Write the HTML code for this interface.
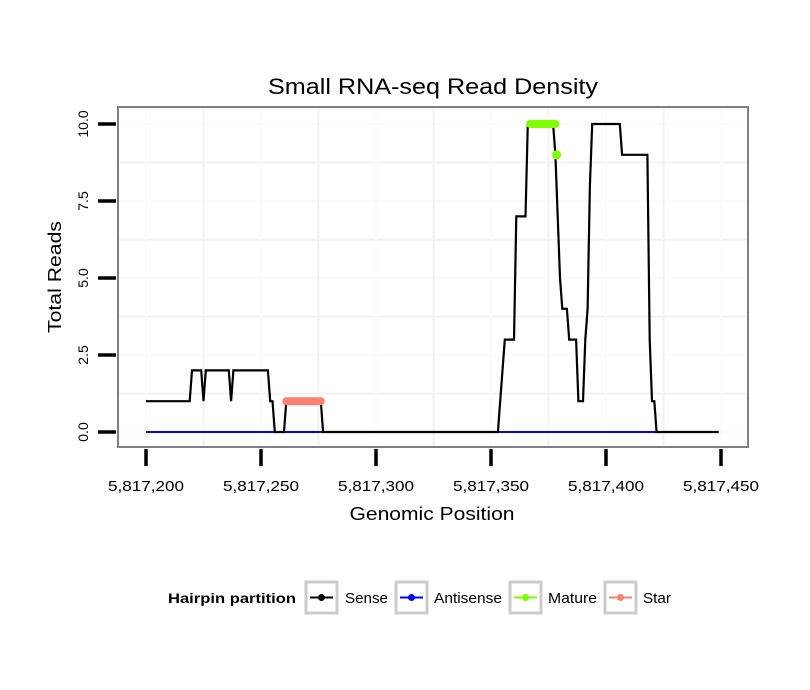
<!DOCTYPE html>
<html><head><meta charset="utf-8"><style>
body{margin:0;background:#fff;}
svg{display:block;font-family:"Liberation Sans",sans-serif;}
</style></head><body>
<svg id="chart" width="810" height="690">
<rect x="0" y="0" width="810" height="690" fill="#fff"/>
<text x="433" y="94" font-size="22" text-anchor="middle" textLength="330" lengthAdjust="spacingAndGlyphs">Small RNA-seq Read Density</text>
<rect x="118" y="107" width="630" height="340" fill="#fff"/>
<g id="grid"></g>
<g id="series"></g>
<rect x="118" y="107" width="630" height="340" fill="none" stroke="#808080" stroke-width="2"/>
<g id="axes"></g>
<text x="432" y="520" font-size="18" text-anchor="middle" textLength="165" lengthAdjust="spacingAndGlyphs">Genomic Position</text>
<text transform="translate(61,277) rotate(-90)" font-size="18" text-anchor="middle" textLength="112" lengthAdjust="spacingAndGlyphs">Total Reads</text>
<g>
<text x="168" y="603" font-size="14" font-weight="bold" textLength="128" lengthAdjust="spacingAndGlyphs">Hairpin partition</text>
<g><rect x="306" y="582" width="31" height="31" fill="#fff" stroke="#ccc" stroke-width="3"/><line x1="310" y1="597.5" x2="333" y2="597.5" stroke="#000" stroke-width="2"/><circle cx="321.5" cy="597.5" r="3.5" fill="#000"/><text x="345" y="603" font-size="15" textLength="43" lengthAdjust="spacingAndGlyphs">Sense</text></g>
<g><rect x="396" y="582" width="31" height="31" fill="#fff" stroke="#ccc" stroke-width="3"/><line x1="400" y1="597.5" x2="423" y2="597.5" stroke="#0000ff" stroke-width="2"/><circle cx="411.5" cy="597.5" r="3.5" fill="#0000ff"/><text x="434" y="603" font-size="15" textLength="68" lengthAdjust="spacingAndGlyphs">Antisense</text></g>
<g><rect x="510" y="582" width="31" height="31" fill="#fff" stroke="#ccc" stroke-width="3"/><line x1="514" y1="597.5" x2="537" y2="597.5" stroke="#7fff00" stroke-width="2"/><circle cx="525.5" cy="597.5" r="3.5" fill="#7fff00"/><text x="548" y="603" font-size="15" textLength="49" lengthAdjust="spacingAndGlyphs">Mature</text></g>
<g><rect x="605" y="582" width="31" height="31" fill="#fff" stroke="#ccc" stroke-width="3"/><line x1="609" y1="597.5" x2="632" y2="597.5" stroke="#fa8072" stroke-width="2"/><circle cx="620.5" cy="597.5" r="3.5" fill="#fa8072"/><text x="643" y="603" font-size="15" textLength="28" lengthAdjust="spacingAndGlyphs">Star</text></g>
</g>
</svg>
<script>
const xBase = 5817200;
const xTicks = [0, 50, 100, 150, 200, 250];
const xTickLabels = ["5,817,200","5,817,250","5,817,300","5,817,350","5,817,400","5,817,450"];
const yTicks = [0, 2.5, 5, 7.5, 10];
const yTickLabels = ["0.0","2.5","5.0","7.5","10.0"];
const senseX = [0,19,20,24,25,26,36,37,38,53,54,55,56,60,61,76,77,153,156,160,161,165,166,177,178,180,181,183,184,187,188,190,191,192,193,194,206,207,218,219,220,221,222,249];
const senseY = [1,1,2,2,1,2,2,1,2,2,1,1,0,0,1,1,0,0,3,3,7,7,10,10,9,5,4,4,3,3,1,1,3,4,8,10,10,9,9,3,1,1,0,0];
const antisenseX = [0,222];
const antisenseY = [0,0];
const matureX = [167,178];
const matureY = [10,10];
const matureDotX = [178.5];
const matureDotY = [9];
const starX = [61,76];
const starY = [1,1];

const NS="http://www.w3.org/2000/svg";
function sx(v){return 146 + v*2.3;}
function sy(v){return 432 - v*30.8;}
function mk(tag,attrs,parent){const e=document.createElementNS(NS,tag);for(const k in attrs)e.setAttribute(k,attrs[k]);parent.appendChild(e);return e;}
const grid=document.getElementById('grid'), axes=document.getElementById('axes'), series=document.getElementById('series');
for(let i=0;i<yTicks.length;i++){
  const l=mk('line',{x1:118,x2:748,y1:sy(yTicks[i]),y2:sy(yTicks[i]),stroke:'#fcfcfc','stroke-width':2},grid);
  
  
  if(i<yTicks.length-1){
    const m=mk('line',{x1:118,x2:748,y1:sy((yTicks[i]+yTicks[i+1])/2),y2:sy((yTicks[i]+yTicks[i+1])/2),stroke:'#f3f3f3','stroke-width':2},grid);
    
    
  }
}
for(let i=0;i<xTicks.length;i++){
  const l=mk('line',{y1:107,y2:447,x1:sx(xTicks[i]),x2:sx(xTicks[i]),stroke:'#fcfcfc','stroke-width':2},grid);
  
  
  if(i<xTicks.length-1){
    const m=mk('line',{y1:107,y2:447,x1:sx((xTicks[i]+xTicks[i+1])/2),x2:sx((xTicks[i]+xTicks[i+1])/2),stroke:'#f3f3f3','stroke-width':2},grid);
    
    
  }
}
function pts(xs,ys){return xs.map((x,i)=>sx(x)+','+sy(ys[i])).join(' ');}
const anti=mk('polyline',{points:pts(antisenseX,antisenseY),fill:'none',stroke:'#0000ff','stroke-width':2},series);


const sense=mk('polyline',{points:pts(senseX,senseY),fill:'none',stroke:'#000','stroke-width':2.2,'stroke-linejoin':'miter'},series);


const star=mk('polyline',{points:pts(starX,starY),fill:'none',stroke:'#fa8072','stroke-width':8,'stroke-linecap':'round'},series);


const mat=mk('polyline',{points:pts(matureX,matureY),fill:'none',stroke:'#7fff00','stroke-width':8,'stroke-linecap':'round'},series);


for(let i=0;i<matureDotX.length;i++){
  const c=mk('circle',{cx:sx(matureDotX[i]),cy:sy(matureDotY[i]),r:4.5,fill:'#7fff00'},series);
  
  
}
for(let i=0;i<yTicks.length;i++){
  const t=mk('line',{x1:98,x2:116,y1:sy(yTicks[i]),y2:sy(yTicks[i]),stroke:'#000','stroke-width':3.5},axes);
  
  
  const lb=mk('text',{transform:'translate(88,'+sy(yTicks[i])+') rotate(-90)','font-size':14,'text-anchor':'middle'},axes);
  lb.textContent=yTickLabels[i];
  
  
}
for(let i=0;i<xTicks.length;i++){
  const t=mk('line',{x1:sx(xTicks[i]),x2:sx(xTicks[i]),y1:449,y2:466,stroke:'#000','stroke-width':3.5},axes);
  
  
  const lb=mk('text',{x:sx(xTicks[i]),y:491,'font-size':15,'text-anchor':'middle',textLength:76,lengthAdjust:'spacingAndGlyphs'},axes);
  lb.textContent=xTickLabels[i];
  
  
}
</script>
</body></html>
